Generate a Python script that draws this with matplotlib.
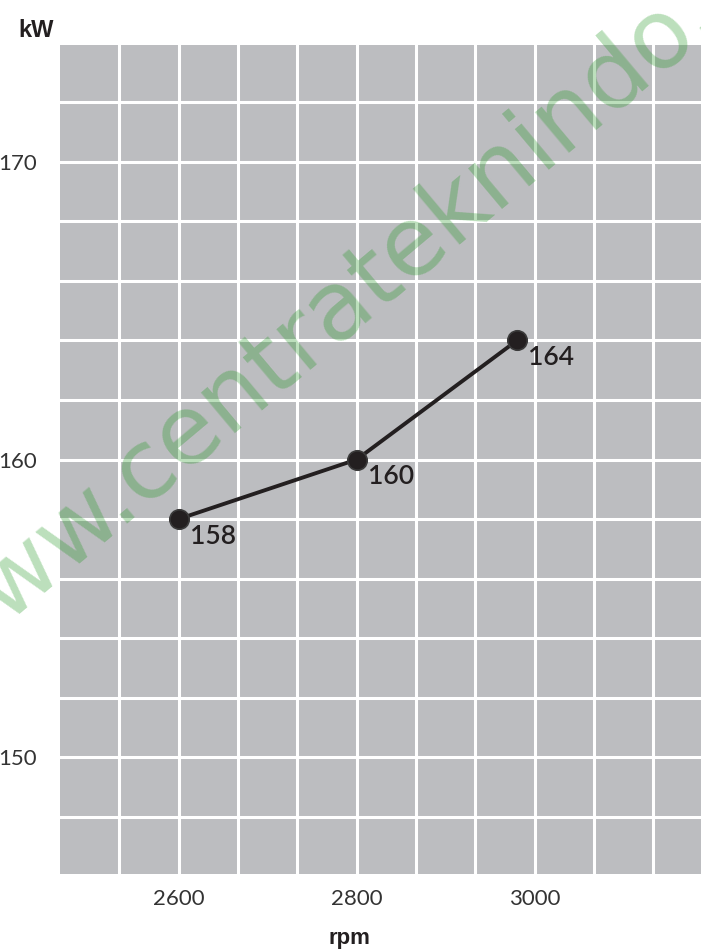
import numpy as np
import matplotlib
matplotlib.use('Agg')
import matplotlib.pyplot as plt

# data
rpm = [2600, 2800, 2980]
power_kw = [158, 160, 164]
point_labels = ['158', '160', '164']
x_ticks = [2600, 2800, 3000]
y_ticks = [150, 160, 170]

W, H = 701, 950
fig = plt.figure(figsize=(W / 100, H / 100), dpi=100)
ax = fig.add_axes([60 / W, 76 / H, 641 / W, 829 / H])

bg = '#bcbdc0'
ink = '#231f20'
ax.set_facecolor(bg)
for s in ax.spines.values():
    s.set_visible(False)

ax.set_xlim(2466.67, 3186.7)
ax.set_ylim(146.07, 173.93)

# white grid on every step (major + minor)
ax.set_xticks(x_ticks)
ax.set_yticks(y_ticks)
ax.set_xticks(np.arange(2533.33, 3180, 200 / 3), minor=True)
ax.set_yticks(np.arange(148, 173, 2), minor=True)
ax.grid(which='both', color='white', linewidth=2.2)
ax.set_axisbelow(True)

ax.tick_params(which='both', length=0)
ax.tick_params(axis='y', pad=16.5)
ax.tick_params(axis='x', pad=11)
for lab in ax.get_xticklabels() + ax.get_yticklabels():
    lab.set_fontfamily('Lato')
    lab.set_fontweight('normal')
    lab.set_fontsize(16)
    lab.set_color('#333333')

ax.plot(rpm, power_kw, color=ink, linewidth=2.8, marker='o', markersize=14,
        markerfacecolor=ink, markeredgecolor='#3a3a3a', markeredgewidth=1.2,
        zorder=4)
for x, y, t in zip(rpm, power_kw, point_labels):
    ax.annotate(t, (x, y), xytext=(8, -3.5), textcoords='offset points',
                ha='left', va='top', fontsize=19, color=ink,
                family='Lato', fontweight='semibold', zorder=5)

fig.text(18 / W, (H - 37) / H, 'kW', fontsize=17, fontweight='bold',
         family='Liberation Sans', color=ink, ha='left', va='baseline')
fig.text(349 / W, (H - 944) / H, 'rpm', fontsize=16, fontweight='bold',
         family='Liberation Sans', color=ink, ha='center', va='baseline')

# watermark
fig.text(-54 / W, (H - 672) / H, 'www.centrateknindo.com', fontsize=69,
         family='DejaVu Sans', color=(30 / 255, 150 / 255, 30 / 255),
         alpha=0.3, rotation=40, rotation_mode='anchor', ha='left',
         va='baseline', zorder=10)

fig.savefig('out.png', dpi=100)
